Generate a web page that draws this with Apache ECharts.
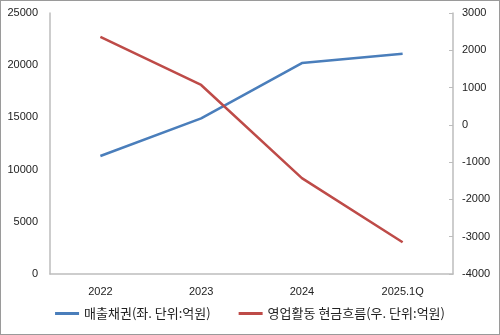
<!DOCTYPE html>
<html><head><meta charset="utf-8">
<script src="https://cdn.jsdelivr.net/npm/echarts@6/dist/echarts.min.js"></script>
<style>html,body{margin:0;padding:0;background:#fff}#c{width:498px;height:333px;border:1px solid #9a9a9a}</style>
</head><body><div id="c"></div>
<script>
const categories = ['2022', '2023', '2024', '2025.1Q'];
const receivables = [11300, 14900, 20200, 21100];
const operatingCF = [2360, 1070, -1430, -3150];
const seriesNames = ['매출채권(좌. 단위:억원)', '영업활동 현금흐름(우. 단위:억원)'];

const chart = echarts.init(document.getElementById('c'));
const font = "'Liberation Sans', 'Noto Sans CJK KR', sans-serif";
const plain = v => String(v);
chart.setOption({
  animation: false,
  textStyle: { fontFamily: font },
  grid: { left: 49, right: 46, top: 12, bottom: 60 },
  legend: {
    bottom: 9, itemWidth: 24, itemHeight: 3, itemGap: 28, icon: 'rect',
    textStyle: { fontFamily: "'Noto Sans CJK KR', sans-serif", fontSize: 13, color: '#222' },
    data: seriesNames
  },
  xAxis: {
    type: 'category', data: categories, boundaryGap: true,
    axisLine: { lineStyle: { color: '#bdbdbd', width: 1.5 } },
    axisTick: { show: false },
    axisLabel: { color: '#222', fontSize: 11, margin: 12, fontFamily: font }
  },
  yAxis: [
    { type: 'value', min: 0, max: 25000, interval: 5000, position: 'left',
      axisLine: { show: true, lineStyle: { color: '#bdbdbd', width: 1.5 } },
      axisTick: { show: false }, splitLine: { show: false },
      axisLabel: { color: '#222', fontSize: 11, margin: 12, fontFamily: font, formatter: plain } },
    { type: 'value', min: -4000, max: 3000, interval: 1000, position: 'right',
      axisLine: { show: true, lineStyle: { color: '#bdbdbd', width: 1.5 } },
      axisTick: { show: true, inside: true, length: 4, lineStyle: { color: '#bdbdbd' } },
      splitLine: { show: false },
      axisLabel: { color: '#222', fontSize: 11, margin: 9, fontFamily: font, formatter: plain } }
  ],
  series: [
    { name: seriesNames[0], type: 'line', yAxisIndex: 0, data: receivables,
      symbol: 'none', lineStyle: { color: '#4a7ebb', width: 2.5 }, itemStyle: { color: '#4a7ebb' } },
    { name: seriesNames[1], type: 'line', yAxisIndex: 1, data: operatingCF,
      symbol: 'none', lineStyle: { color: '#be4b48', width: 2.5 }, itemStyle: { color: '#be4b48' } }
  ]
});
</script></body></html>
